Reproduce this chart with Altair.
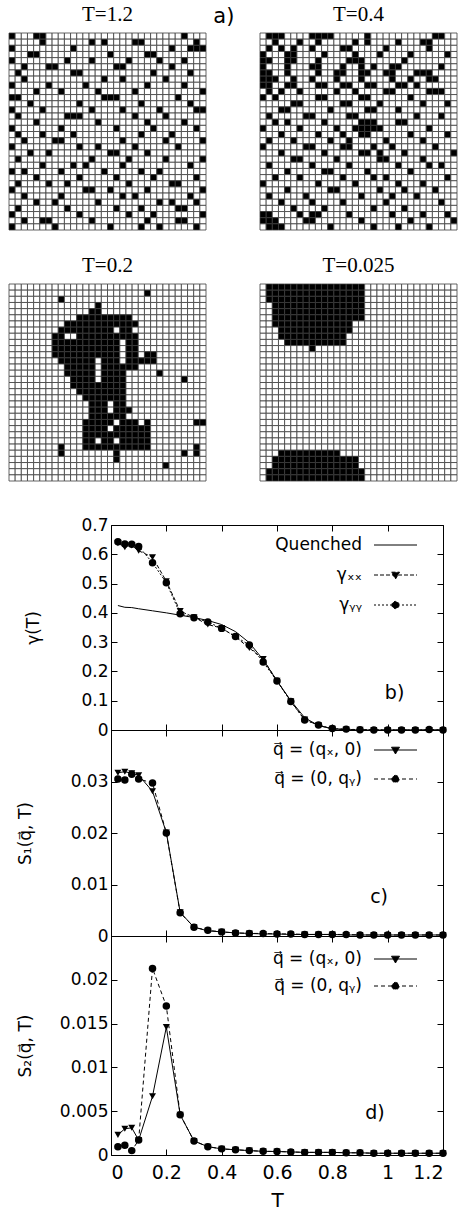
import altair as alt
import pandas as pd

SANS = "DejaVu Sans"
SERIF = "Liberation Serif"

# ---------------- lattice snapshots (32 x 32): black-cell columns per row ----------------
SNAP_T12 = [
    [0, 4, 5, 28], [5, 13, 15, 20, 21, 30], [0, 10, 26, 29, 30, 31],
    [3, 4, 16, 22, 23], [0, 9, 13, 19, 24, 28], [2, 6, 7, 17, 18, 26],
    [1, 10, 11, 23, 29], [2, 15, 18, 25], [0, 6, 12, 22, 28],
    [4, 8, 14, 20, 31], [0, 1, 15, 16, 17, 27], [3, 11, 21, 29],
    [0, 5, 13, 18, 24, 30, 31], [1, 9, 10, 11, 20, 25], [4, 14, 22, 28],
    [0, 8, 17, 23, 30], [1, 5, 10, 21, 26], [2, 7, 8, 18, 25, 31],
    [0, 11, 14, 20, 27], [3, 6, 16, 17, 22], [1, 13, 19, 25, 31],
    [5, 10, 12, 18, 29], [0, 2, 8, 15, 21, 24], [4, 11, 17, 23, 30],
    [1, 6, 9, 19, 26, 27], [0, 12, 13, 16, 22, 31], [2, 8, 18, 20, 29],
    [4, 7, 14, 24, 26, 30], [1, 9, 17, 21, 27, 28], [0, 11, 19, 23, 31],
    [2, 5, 6, 13, 22, 27, 28], [0, 7, 16, 21, 24, 30],
]
SNAP_T04 = [
    [1, 2, 3, 8, 9, 10, 11, 17, 28, 29], [2, 6, 9, 15, 17, 22, 26, 27], [1, 3, 5, 8, 13, 14, 20, 27],
    [0, 4, 5, 10, 15, 19, 24, 30], [0, 1, 4, 5, 9, 14, 15, 16, 23], [0, 4, 8, 9, 13, 16, 18, 21, 22, 29],
    [0, 1, 4, 9, 12, 13, 16, 17, 20, 21, 25, 26, 27], [0, 1, 2, 5, 8, 12, 16, 21, 24, 27, 28],
    [0, 1, 4, 5, 9, 10, 13, 14, 17, 18, 22, 23, 25], [1, 3, 6, 12, 15, 20, 21, 27, 28, 29],
    [0, 2, 9, 10, 16, 17, 24], [5, 6, 13, 14, 19, 26, 30], [3, 4, 11, 17, 18, 22],
    [1, 7, 8, 14, 15, 25, 29], [2, 4, 10, 16, 17, 18, 22, 23], [0, 6, 12, 15, 16, 17, 18, 19, 27],
    [3, 9, 13, 16, 17, 24, 30], [1, 5, 11, 14, 20, 26], [0, 7, 8, 13, 14, 18, 21, 28],
    [3, 10, 16, 17, 19, 23, 31], [5, 6, 12, 19, 20, 26], [1, 8, 14, 22, 27, 29],
    [4, 10, 11, 17, 24], [2, 6, 13, 18, 20, 30], [0, 9, 15, 22, 26], [4, 11, 12, 19, 23, 28],
    [1, 7, 16, 21, 25], [3, 8, 13, 20, 29], [5, 10, 18, 23], [0, 1, 6, 8, 9, 14, 21, 26, 30],
    [0, 1, 2, 7, 8, 16, 24, 31], [1, 2, 3, 11, 18, 22, 27],
]
SNAP_T02 = [
    [], [22], [8], [14], [13, 14],
    [11, 12, 13, 14, 15, 16, 17, 18, 19],
    [9, 10, 11, 12, 13, 14, 15, 16, 17, 18, 19, 20],
    [8, 9, 10, 11, 12, 13, 14, 15, 16, 18, 19],
    [7, 8, 11, 12, 13, 14, 15, 16, 17, 18, 19, 20],
    [7, 8, 9, 10, 11, 12, 13, 14, 15, 16, 17, 19, 20],
    [7, 8, 9, 10, 11, 12, 13, 14, 15, 16, 17, 19, 20],
    [7, 8, 9, 10, 11, 12, 13, 14, 15, 16, 17, 19, 20, 22, 23],
    [8, 9, 10, 11, 12, 13, 15, 16, 17, 19, 20, 21, 22, 23],
    [9, 10, 11, 12, 13, 15, 16, 17, 18, 19, 20],
    [9, 10, 11, 12, 13, 15, 16, 17, 18, 24],
    [10, 11, 12, 13, 15, 16, 17, 18, 28],
    [10, 11, 12, 13, 14, 15, 16, 17, 18],
    [11, 12, 13, 14, 15, 16, 17, 18],
    [12, 13, 14, 15, 16, 17, 18],
    [13, 14, 15, 17, 18],
    [13, 14, 15, 17, 18, 19],
    [13, 14, 15, 16, 17, 18],
    [12, 13, 14, 15, 16, 18, 19, 20, 22, 30, 31],
    [12, 13, 14, 15, 17, 18, 19, 20, 21, 22],
    [12, 13, 14, 15, 16, 17, 18, 19, 20, 21, 22],
    [12, 13, 15, 16, 18, 19, 20, 21, 22],
    [8, 12, 13, 14, 15, 16, 17, 18, 19, 20, 21, 22, 30],
    [8, 17, 28, 30], [17], [25], [], [],
]
SNAP_T0025 = [
    [1, 2, 3, 4, 5, 6, 7, 8, 9, 10, 11, 12, 13, 14, 15, 16],
    [1, 2, 3, 4, 5, 6, 7, 8, 9, 10, 11, 12, 13, 14, 15, 16],
    [1, 2, 3, 4, 5, 6, 7, 8, 9, 10, 11, 12, 13, 14, 15, 16],
    [2, 3, 4, 5, 6, 7, 8, 9, 10, 11, 12, 13, 14, 15, 16],
    [2, 3, 4, 5, 6, 7, 8, 9, 10, 11, 12, 13, 14, 15, 16],
    [2, 3, 4, 5, 6, 7, 8, 9, 10, 11, 12, 13, 14, 15, 16],
    [2, 3, 4, 5, 6, 7, 8, 9, 10, 11, 12, 13, 14],
    [3, 4, 5, 6, 7, 8, 9, 10, 11, 12, 13, 14],
    [3, 4, 5, 6, 7, 8, 9, 10, 11, 12, 13],
    [4, 5, 6, 7, 8, 9, 10, 11, 12, 13],
    [8],
    [], [], [], [], [], [], [], [], [], [], [], [], [], [], [], [],
    [3, 4, 5, 6, 7, 8, 9, 10, 11, 12],
    [2, 3, 4, 5, 6, 7, 8, 9, 10, 11, 12, 13, 14, 15],
    [2, 3, 4, 5, 6, 7, 8, 9, 10, 11, 12, 13, 14, 15],
    [1, 2, 3, 4, 5, 6, 7, 8, 9, 10, 11, 12, 13, 14, 15, 16],
    [1, 2, 3, 4, 5, 6, 7, 8, 9, 10, 11, 12, 13, 14, 15, 16],
]
SNAPS = [SNAP_T12, SNAP_T04, SNAP_T02, SNAP_T0025]
SNAP_TITLES = ["T=1.2", "T=0.4", "T=0.2", "T=0.025"]

# ---------------- curves ----------------
T_VALUES = [0.025, 0.05, 0.075, 0.1, 0.15, 0.2, 0.25, 0.3, 0.35, 0.4, 0.45, 0.5, 0.55,
            0.6, 0.65, 0.7, 0.75, 0.8, 0.85, 0.9, 0.95, 1.0, 1.05, 1.1, 1.15, 1.2]
GAMMA_QUENCHED = [0.425, 0.419, 0.418, 0.414, 0.407, 0.400, 0.392, 0.384, 0.374, 0.360, 0.336, 0.298, 0.240,
                  0.168, 0.100, 0.042, 0.015, 0.004, 0.001, 0.0, 0.0, 0.0, 0.0, 0.0, 0.0, 0.0]
GAMMA_XX = [0.638, 0.624, 0.630, 0.612, 0.590, 0.508, 0.406, 0.385, 0.360, 0.348, 0.318, 0.280, 0.242,
            0.168, 0.098, 0.036, 0.016, 0.004, 0.002, 0.001, 0.0, 0.0, 0.0, 0.0, 0.0, 0.0]
GAMMA_YY = [0.643, 0.635, 0.634, 0.627, 0.571, 0.503, 0.397, 0.383, 0.369, 0.347, 0.319, 0.290, 0.232,
            0.167, 0.097, 0.034, 0.017, 0.005, 0.003, 0.001, 0.0, 0.0, 0.0, 0.0, 0.002, 0.0]
S1_QX = [0.0317, 0.0319, 0.0316, 0.0312, 0.0281, 0.0201, 0.0046, 0.0017, 0.0010, 0.0008, 0.0006, 0.0005, 0.0004,
         0.0004, 0.0003, 0.0003, 0.0003, 0.0003, 0.0002, 0.0002, 0.0002, 0.0002, 0.0002, 0.0002, 0.0002, 0.0002]
S1_QY = [0.0305, 0.0303, 0.0314, 0.0305, 0.0297, 0.0200, 0.0045, 0.0017, 0.0011, 0.0008, 0.0006, 0.0005, 0.0005,
         0.0004, 0.0004, 0.0003, 0.0003, 0.0003, 0.0003, 0.0002, 0.0002, 0.0002, 0.0002, 0.0002, 0.0002, 0.0002]
S2_QX = [0.0023, 0.0030, 0.0031, 0.0017, 0.0067, 0.0146, 0.0046, 0.0016, 0.00095, 0.0007, 0.0006, 0.0005, 0.00042,
         0.0004, 0.00035, 0.0003, 0.0003, 0.0003, 0.00025, 0.00025, 0.0002, 0.0002, 0.0002, 0.0002, 0.0002, 0.0002]
S2_QY = [0.00095, 0.0011, 0.0005, 0.0017, 0.0213, 0.0170, 0.0046, 0.0016, 0.00095, 0.0007, 0.0006, 0.0005, 0.00042,
         0.0004, 0.00035, 0.0003, 0.0003, 0.0003, 0.00025, 0.00025, 0.0002, 0.0002, 0.0002, 0.0002, 0.0002, 0.0002]

X_TICKS = [0, 0.2, 0.4, 0.6, 0.8, 1.0, 1.2]
B_TICKS = [0, 0.1, 0.2, 0.3, 0.4, 0.5, 0.6, 0.7]
C_TICKS = [0, 0.01, 0.02, 0.03]
D_TICKS = [0, 0.005, 0.01, 0.015, 0.02]

LEG_B = ["Quenched", "γₓₓ", "γᵧᵧ"]
LEG_C = ["q\u20d7 = (qₓ, 0)", "q\u20d7 = (0, qᵧ)"]
LEG_D = ["q\u20d7 = (qₓ, 0) ", "q\u20d7 = (0, qᵧ) "]

# legend sample glyphs (line sample + marker), drawn to the right of the labels
P_LINE = "M10.25,0H31.75"
P_TRI = "M10.25,0H31.75M19,-1.4L23,-1.4L21,2Z"
P_CIRC = "M10.25,0H31.75M19.2,0A1.8,1.8,0,1,0,22.8,0A1.8,1.8,0,1,0,19.2,0Z"


def snapshot_df(black_rows):
    recs = []
    for r, cols in enumerate(black_rows):
        on = set(cols)
        for c in range(32):
            recs.append({"r": r, "r2": r + 1, "c": c, "c2": c + 1, "v": int(c in on)})
    return pd.DataFrame(recs)


PANEL_X = [(-102, 95), (149, 346), (-102, 95), (149, 346)]
PANEL_Y = [(0, 197), (0, 197), (251, 448), (251, 448)]


def snapshot(i):
    xs = alt.Scale(domain=[0, 32], range=list(PANEL_X[i]), nice=False, zero=False)
    ys = alt.Scale(domain=[0, 32], range=list(PANEL_Y[i]), nice=False, zero=False)
    cells = alt.Chart(snapshot_df(SNAPS[i])).mark_rect(stroke="#3c3c3c", strokeWidth=0.8).encode(
        x=alt.X("c:Q", scale=xs, axis=None), x2="c2:Q",
        y=alt.Y("r:Q", scale=ys, axis=None), y2="r2:Q",
        color=alt.condition(alt.datum.v == 1, alt.value("black"), alt.value("white")),
    )
    title = alt.Chart(pd.DataFrame({"t": [SNAP_TITLES[i]]})).mark_text(
        font=SERIF, fontSize=21, baseline="alphabetic", color="black").encode(
        x=alt.XDatum(16, scale=xs, axis=None), y=alt.YDatum(-1.9, scale=ys, axis=None), text="t:N")
    layers = [cells, title]
    if i == 0:
        tag = alt.Chart(pd.DataFrame({"t": ["a)"]})).mark_text(
            font=SANS, fontSize=21, baseline="alphabetic", color="black").encode(
            x=alt.XDatum(34.9, scale=xs, axis=None), y=alt.YDatum(-1.7, scale=ys, axis=None), text="t:N")
        layers.append(tag)
    return alt.layer(*layers)


grids = alt.layer(*[snapshot(i) for i in range(4)]).resolve_scale(
    x="independent", y="independent").properties(width=332, height=448)


def panel(df, lines, points, ydom, yticks, ytitle, title_pad, tag, tag_xy,
          leg_names, leg_paths, leg_dash, leg_xy, leg_rowpad, height, show_x):
    xs = alt.Scale(domain=[0, 1.2], nice=False, zero=False)
    ys = alt.Scale(domain=ydom, nice=False, zero=False)
    bottom_kw = dict(orient="bottom", offset=-6, tickSize=6, domain=False, grid=False, values=X_TICKS,
                     format="~g", labels=show_x, minExtent=0)
    if show_x:
        bottom_kw.update(labelFontSize=19, labelPadding=8, title="T", titleFontSize=20, titlePadding=8)
    else:
        bottom_kw.update(title=None)
    ax_bottom = alt.Axis(**bottom_kw)
    ax_top = alt.Axis(orient="top", offset=-6, tickSize=6, domain=False, grid=False, values=X_TICKS,
                      labels=False, title=None, minExtent=0)
    ax_left = alt.Axis(orient="left", offset=-6, tickSize=6, domain=False, grid=False, values=yticks,
                       format="~g", labelFontSize=17, labelPadding=3, title=ytitle, titleFontSize=17,
                       titlePadding=title_pad, minExtent=70)
    ax_right = alt.Axis(orient="right", offset=-6, tickSize=6, domain=False, grid=False, values=yticks,
                        labels=False, title=None, minExtent=0)
    layers = []
    for k, (col, dash) in enumerate(lines):
        xa = ax_bottom if k == 0 else (ax_top if k == 1 else None)
        ya = ax_left if k == 0 else (ax_right if k == 1 else None)
        mk = dict(color="black", strokeWidth=1)
        if dash:
            mk["strokeDash"] = dash
        layers.append(alt.Chart(df).mark_line(**mk).encode(
            x=alt.X("T:Q", scale=xs, axis=xa), y=alt.Y(f"{col}:Q", scale=ys, axis=ya)))
    for col, shape, size in points:
        layers.append(alt.Chart(df).mark_point(shape=shape, filled=True, size=size, color="black", opacity=1).encode(
            x=alt.X("T:Q", scale=xs, axis=None), y=alt.Y(f"{col}:Q", scale=ys, axis=None)))
    layers.append(alt.Chart(pd.DataFrame({"t": [tag]})).mark_text(font=SANS, fontSize=19, color="black").encode(
        x=alt.XDatum(tag_xy[0], scale=xs, axis=None), y=alt.YDatum(tag_xy[1], scale=ys, axis=None), text="t:N"))
    leg = alt.Legend(title=None, orient="none", legendX=leg_xy[0], legendY=leg_xy[1], labelFont=SANS,
                     labelFontSize=17, labelColor="black", labelAlign="right", labelOffset=0, labelLimit=300,
                     symbolSize=16, symbolStrokeWidth=1, rowPadding=leg_rowpad, padding=0)
    layers.append(alt.Chart(pd.DataFrame({"s": leg_names})).transform_filter("false").mark_point(
        filled=False, fill="black", stroke="black", strokeWidth=1, fillOpacity=1, strokeOpacity=1,
        size=16, opacity=1).encode(
        shape=alt.Shape("s:N", scale=alt.Scale(domain=leg_names, range=leg_paths), legend=leg),
        strokeDash=alt.StrokeDash("s:N", scale=alt.Scale(domain=leg_names, range=leg_dash), legend=leg)))
    return alt.layer(*layers).resolve_axis(x="independent", y="independent").properties(
        width=332, height=height, view=alt.ViewBackground(stroke="black", strokeWidth=1))


df_b = pd.DataFrame({"T": T_VALUES, "q": GAMMA_QUENCHED, "xx": GAMMA_XX, "yy": GAMMA_YY})
df_c = pd.DataFrame({"T": T_VALUES, "qx": S1_QX, "qy": S1_QY})
df_d = pd.DataFrame({"T": T_VALUES, "qx": S2_QX, "qy": S2_QY})

pb = panel(df_b, [("q", None), ("xx", [4, 2]), ("yy", [2, 2])],
           [("xx", "triangle-down", 49), ("yy", "circle", 56)],
           [0, 0.7], B_TICKS, "γ(T)", 5, "b)", (1.025, 0.126),
           LEG_B, [P_LINE, P_TRI, P_CIRC], [[1, 0], [4, 2], [2, 2]], (234, 11.5), 12, 205, False)
pc = panel(df_c, [("qx", None), ("qy", [4, 3])],
           [("qx", "triangle-down", 49), ("qy", "circle", 56)],
           [0, 0.04], C_TICKS, "S₁(q\u20d7, T)", 13, "c)", (0.969, 0.0076),
           LEG_C, [P_TRI, P_CIRC], [[1, 0], [4, 3]], (234, 11.5), 11, 206, False)
pd_ = panel(df_d, [("qx", None), ("qy", [4, 3])],
            [("qx", "triangle-down", 49), ("qy", "circle", 56)],
            [0, 0.025], D_TICKS, "S₂(q\u20d7, T)", 13, "d)", (0.954, 0.0048),
            LEG_D, [P_TRI, P_CIRC], [[1, 0], [4, 3]], (234, 14.5), 9, 219, True)

plots = alt.vconcat(pb, pc, pd_, spacing=0, bounds="flush").resolve_scale(
    shape="independent", strokeDash="independent").resolve_legend(
    shape="independent", strokeDash="independent")
chart = alt.vconcat(grids, plots, spacing=33).properties(
    padding={"left": 8, "top": 4, "right": 0, "bottom": 0})
chart = chart.configure_view(strokeWidth=0).configure_axis(
    labelFont=SANS, titleFont=SANS, labelColor="black", titleColor="black", tickColor="black",
    titleFontWeight="normal")

chart.save("out.html", embed_options={"renderer": "svg", "actions": False})
